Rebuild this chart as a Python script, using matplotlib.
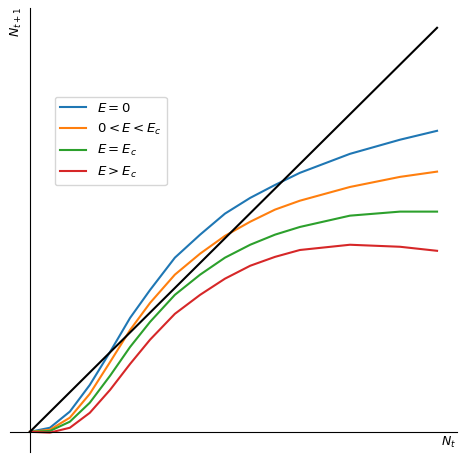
import matplotlib
matplotlib.use("Agg")
import matplotlib.pyplot as plt

# values (arbitrary units, 0..100)
n_t = [0, 4.9, 9.8, 14.7, 19.7, 24.6, 29.5, 35.6, 41.8, 47.9, 54.1, 60.2, 66.3, 78.6, 90.9, 100]
e_zero = [0, 1.0, 5.0, 11.6, 19.8, 28.2, 35.1, 43.1, 48.8, 54.0, 57.9, 61.1, 64.1, 68.8, 72.3, 74.5]
e_below = [0, 0.5, 3.5, 9.4, 17.3, 25.2, 31.9, 38.9, 44.1, 48.5, 52.0, 55.0, 57.2, 60.6, 63.1, 64.4]
e_crit = [0, 0.2, 2.5, 7.2, 13.9, 21.0, 27.2, 33.9, 38.9, 43.1, 46.3, 48.8, 50.7, 53.5, 54.5, 54.5]
e_above = [0, -0.2, 1.0, 4.7, 10.4, 16.8, 22.8, 29.2, 33.9, 37.9, 41.1, 43.3, 45.0, 46.3, 45.8, 44.8]
labels = [r"$E = 0$", r"$0 < E < E_c$", r"$E = E_c$", r"$E > E_c$"]

fig = plt.figure(figsize=(4.65, 4.62), dpi=100)
ax = fig.add_axes([10 / 465, 10 / 462, 447 / 465, 444 / 462])

for ys, lab in zip([e_zero, e_below, e_crit, e_above], labels):
    ax.plot(n_t, ys, label=lab, lw=1.5)
ax.plot([0, 100], [0, 100], color="black", lw=1.5)

ax.set_xlim(-4.9, 104.9)
ax.set_ylim(-5, 104.9)
ax.spines["left"].set_position(("data", 0))
ax.spines["bottom"].set_position(("data", 0))
ax.spines["top"].set_visible(False)
ax.spines["right"].set_visible(False)
ax.set_xticks([])
ax.set_yticks([])

ax.text(102.7, -2.7, r"$N_t$", ha="center", va="center", fontsize=9)
ax.text(-3.4, 101.5, r"$N_{t+1}$", ha="center", va="center", rotation=90, fontsize=9)

ax.legend(loc="upper left", bbox_to_anchor=(0.085, 0.815), fontsize=9.5)

fig.savefig("out.png", dpi=100)
